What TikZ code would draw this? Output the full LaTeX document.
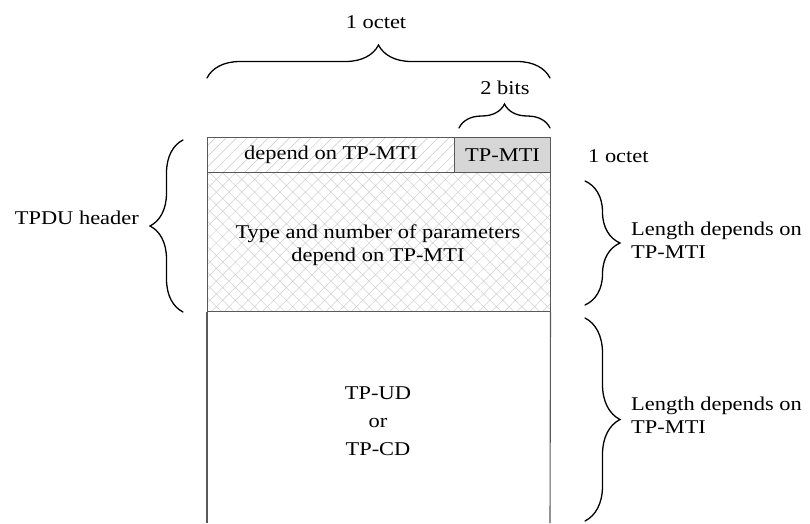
\documentclass[tikz,border=0pt]{standalone}
\usepackage{fontspec}
\setmainfont{Liberation Serif}[FakeStretch=1.15]
\usetikzlibrary{patterns.meta,decorations.pathreplacing}
\begin{document}
\begin{tikzpicture}[x=1pt,y=-1pt,
  txt/.style={font=\fontsize{19.5}{22.5}\selectfont, inner sep=0pt, align=center},
  cellbox/.style={draw=black!65, line width=1.1pt, inner sep=0pt, anchor=north west},
  hatchline/.style={pattern={Lines[angle=45,distance=7.5pt,line width=0.5pt]}, pattern color=black!22},
  hatchcross/.style={pattern={Hatch[angle=45,distance=9pt,line width=0.5pt]}, pattern color=black!18},
  bracestyle/.style={decorate, line width=1.3pt, line cap=round}
]
\useasboundingbox (0,0) rectangle (810,523);
% cells
\node[cellbox, hatchline, minimum width=247pt, minimum height=35pt] (dep) at (207,137) {};
\node[cellbox, fill=black!16, minimum width=96pt, minimum height=35pt] (mti) at (454,137) {};
\node[cellbox, hatchcross, minimum width=343pt, minimum height=139pt] (params) at (207,172) {};
\coordinate (bl) at (207,523);
\coordinate (br) at (550,523);
\draw[draw=black!65, line width=1.1pt] (params.south west) -- (bl);
\draw[draw=black!65, line width=1.1pt] (params.south east) -- (br);
% texts in cells
\node[txt] (deptxt) at (dep.center) {depend on TP-MTI};
\node[txt] (mtitxt) at (mti.center) {TP-MTI};
\node[txt] (paramtxt) at (378,245) {Type and number of parameters\\depend on TP-MTI};
\node[txt, font=\fontsize{19.5}{28}\selectfont] (udtxt) at (378,421) {TP-UD\\or\\TP-CD};
% braces
\coordinate (ta) at (207,78); \coordinate (tb) at (550,78);
\draw[bracestyle, decoration={brace, amplitude=33pt}] (ta) -- (tb);
\node[txt] (octet) at (376,22) {1 octet};
\coordinate (sa) at (459,128); \coordinate (sb) at (550,128);
\draw[bracestyle, decoration={brace, amplitude=24pt}] (sa) -- (sb);
\node[txt] (bits) at (505,88) {2 bits};
\coordinate (la) at (183,312); \coordinate (lb) at (183,140);
\draw[bracestyle, decoration={brace, amplitude=33pt}] (la) -- (lb);
\node[txt, anchor=east] (tpdu) at (139,218) {TPDU header};
\node[txt, anchor=west] (octet2) at (588,156) {1 octet};
\coordinate (r1a) at (585,181); \coordinate (r1b) at (585,305);
\draw[bracestyle, decoration={brace, amplitude=35pt}] (r1a) -- (r1b);
\node[txt, anchor=west, align=left] (len1) at (631,240) {Length depends on\\TP-MTI};
\coordinate (r2a) at (585,318); \coordinate (r2b) at (585,521);
\draw[bracestyle, decoration={brace, amplitude=35pt}] (r2a) -- (r2b);
\node[txt, anchor=west, align=left] (len2) at (631,415) {Length depends on\\TP-MTI};
\end{tikzpicture}
\end{document}
